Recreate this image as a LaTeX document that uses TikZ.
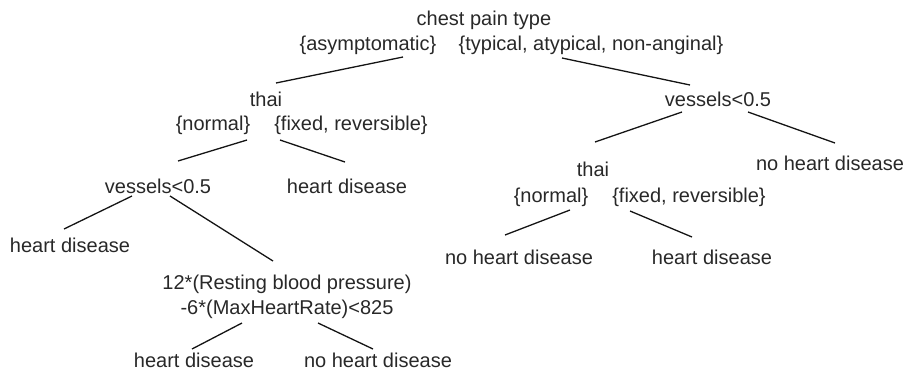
\documentclass[tikz,border=0pt]{standalone}
\usepackage{fontspec}
\setmainfont{Liberation Sans}
\usetikzlibrary{calc}
\definecolor{txt}{RGB}{40,40,40}
\definecolor{ln}{RGB}{20,20,20}
\begin{document}
\begin{tikzpicture}[x=1bp,y=-1bp,
  lbl/.style={inner sep=0pt,outer sep=0pt,text=txt,anchor=center,
    font=\fontsize{20bp}{25bp}\selectfont,align=center},
  edge/.style={draw=ln,line width=1.3bp}]
\useasboundingbox (0,0) rectangle (909,377);
% root
\node[lbl] (cpt) at (484,20) {chest pain type};
\node[lbl] (asym) at (368,45) {\{asymptomatic\}};
\node[lbl] (typ) at (591,45) {\{typical, atypical, non-anginal\}};
% left subtree
\node[lbl] (thaiL) at (266,99) {thai};
\node[lbl] (normL) at (213,125) {\{normal\}};
\node[lbl] (fixL) at (351,125) {\{fixed, reversible\}};
\node[lbl] (vesL) at (158,186) {vessels<0.5};
\node[lbl] (hdM) at (347,186) {heart disease};
\node[lbl] (hdLeaf) at (70,245) {heart disease};
\node[lbl] (form) at (287,297) {12*(Resting blood pressure)\\-6*(MaxHeartRate)<825};
\node[lbl] (hdB) at (194,360) {heart disease};
\node[lbl] (nhdB) at (378,360) {no heart disease};
% right subtree
\node[lbl] (vesR) at (718,99) {vessels<0.5};
\node[lbl] (nhdR) at (830,163) {no heart disease};
\node[lbl] (thaiR) at (593,169) {thai};
\node[lbl] (normR) at (551,197) {\{normal\}};
\node[lbl] (fixR) at (689,197) {\{fixed, reversible\}};
\node[lbl] (nhdB2) at (519,257) {no heart disease};
\node[lbl] (hdR) at (712,257) {heart disease};
% connectors
\draw[edge] ($(asym)+(35,12)$) -- ($(thaiL)+(10,-16)$);
\draw[edge] ($(typ)+(-29,13)$) -- ($(vesR)+(-28,-14)$);
\draw[edge] ($(normL)+(34,15)$) -- ($(vesL)+(20,-25)$);
\draw[edge] ($(fixL)+(-71,15)$) -- ($(hdM)+(-2,-24)$);
\draw[edge] ($(vesL)+(-26,10)$) -- ($(hdLeaf)+(-6,-16)$);
\draw[edge] ($(vesL)+(12,10)$) -- ($(form)+(-14,-36)$);
\draw[edge] ($(form)+(-45,26)$) -- ($(hdB)+(-2,-11)$);
\draw[edge] ($(form)+(31,26)$) -- ($(nhdB)+(-5,-11)$);
\draw[edge] ($(vesR)+(-36,13)$) -- ($(thaiR)+(2,-27)$);
\draw[edge] ($(vesR)+(30,13)$) -- ($(nhdR)+(5,-20)$);
\draw[edge] ($(normR)+(19,13)$) -- ($(nhdB2)+(-14,-22)$);
\draw[edge] ($(fixR)+(-59,14)$) -- ($(hdR)+(-20,-20)$);
\end{tikzpicture}
\end{document}
